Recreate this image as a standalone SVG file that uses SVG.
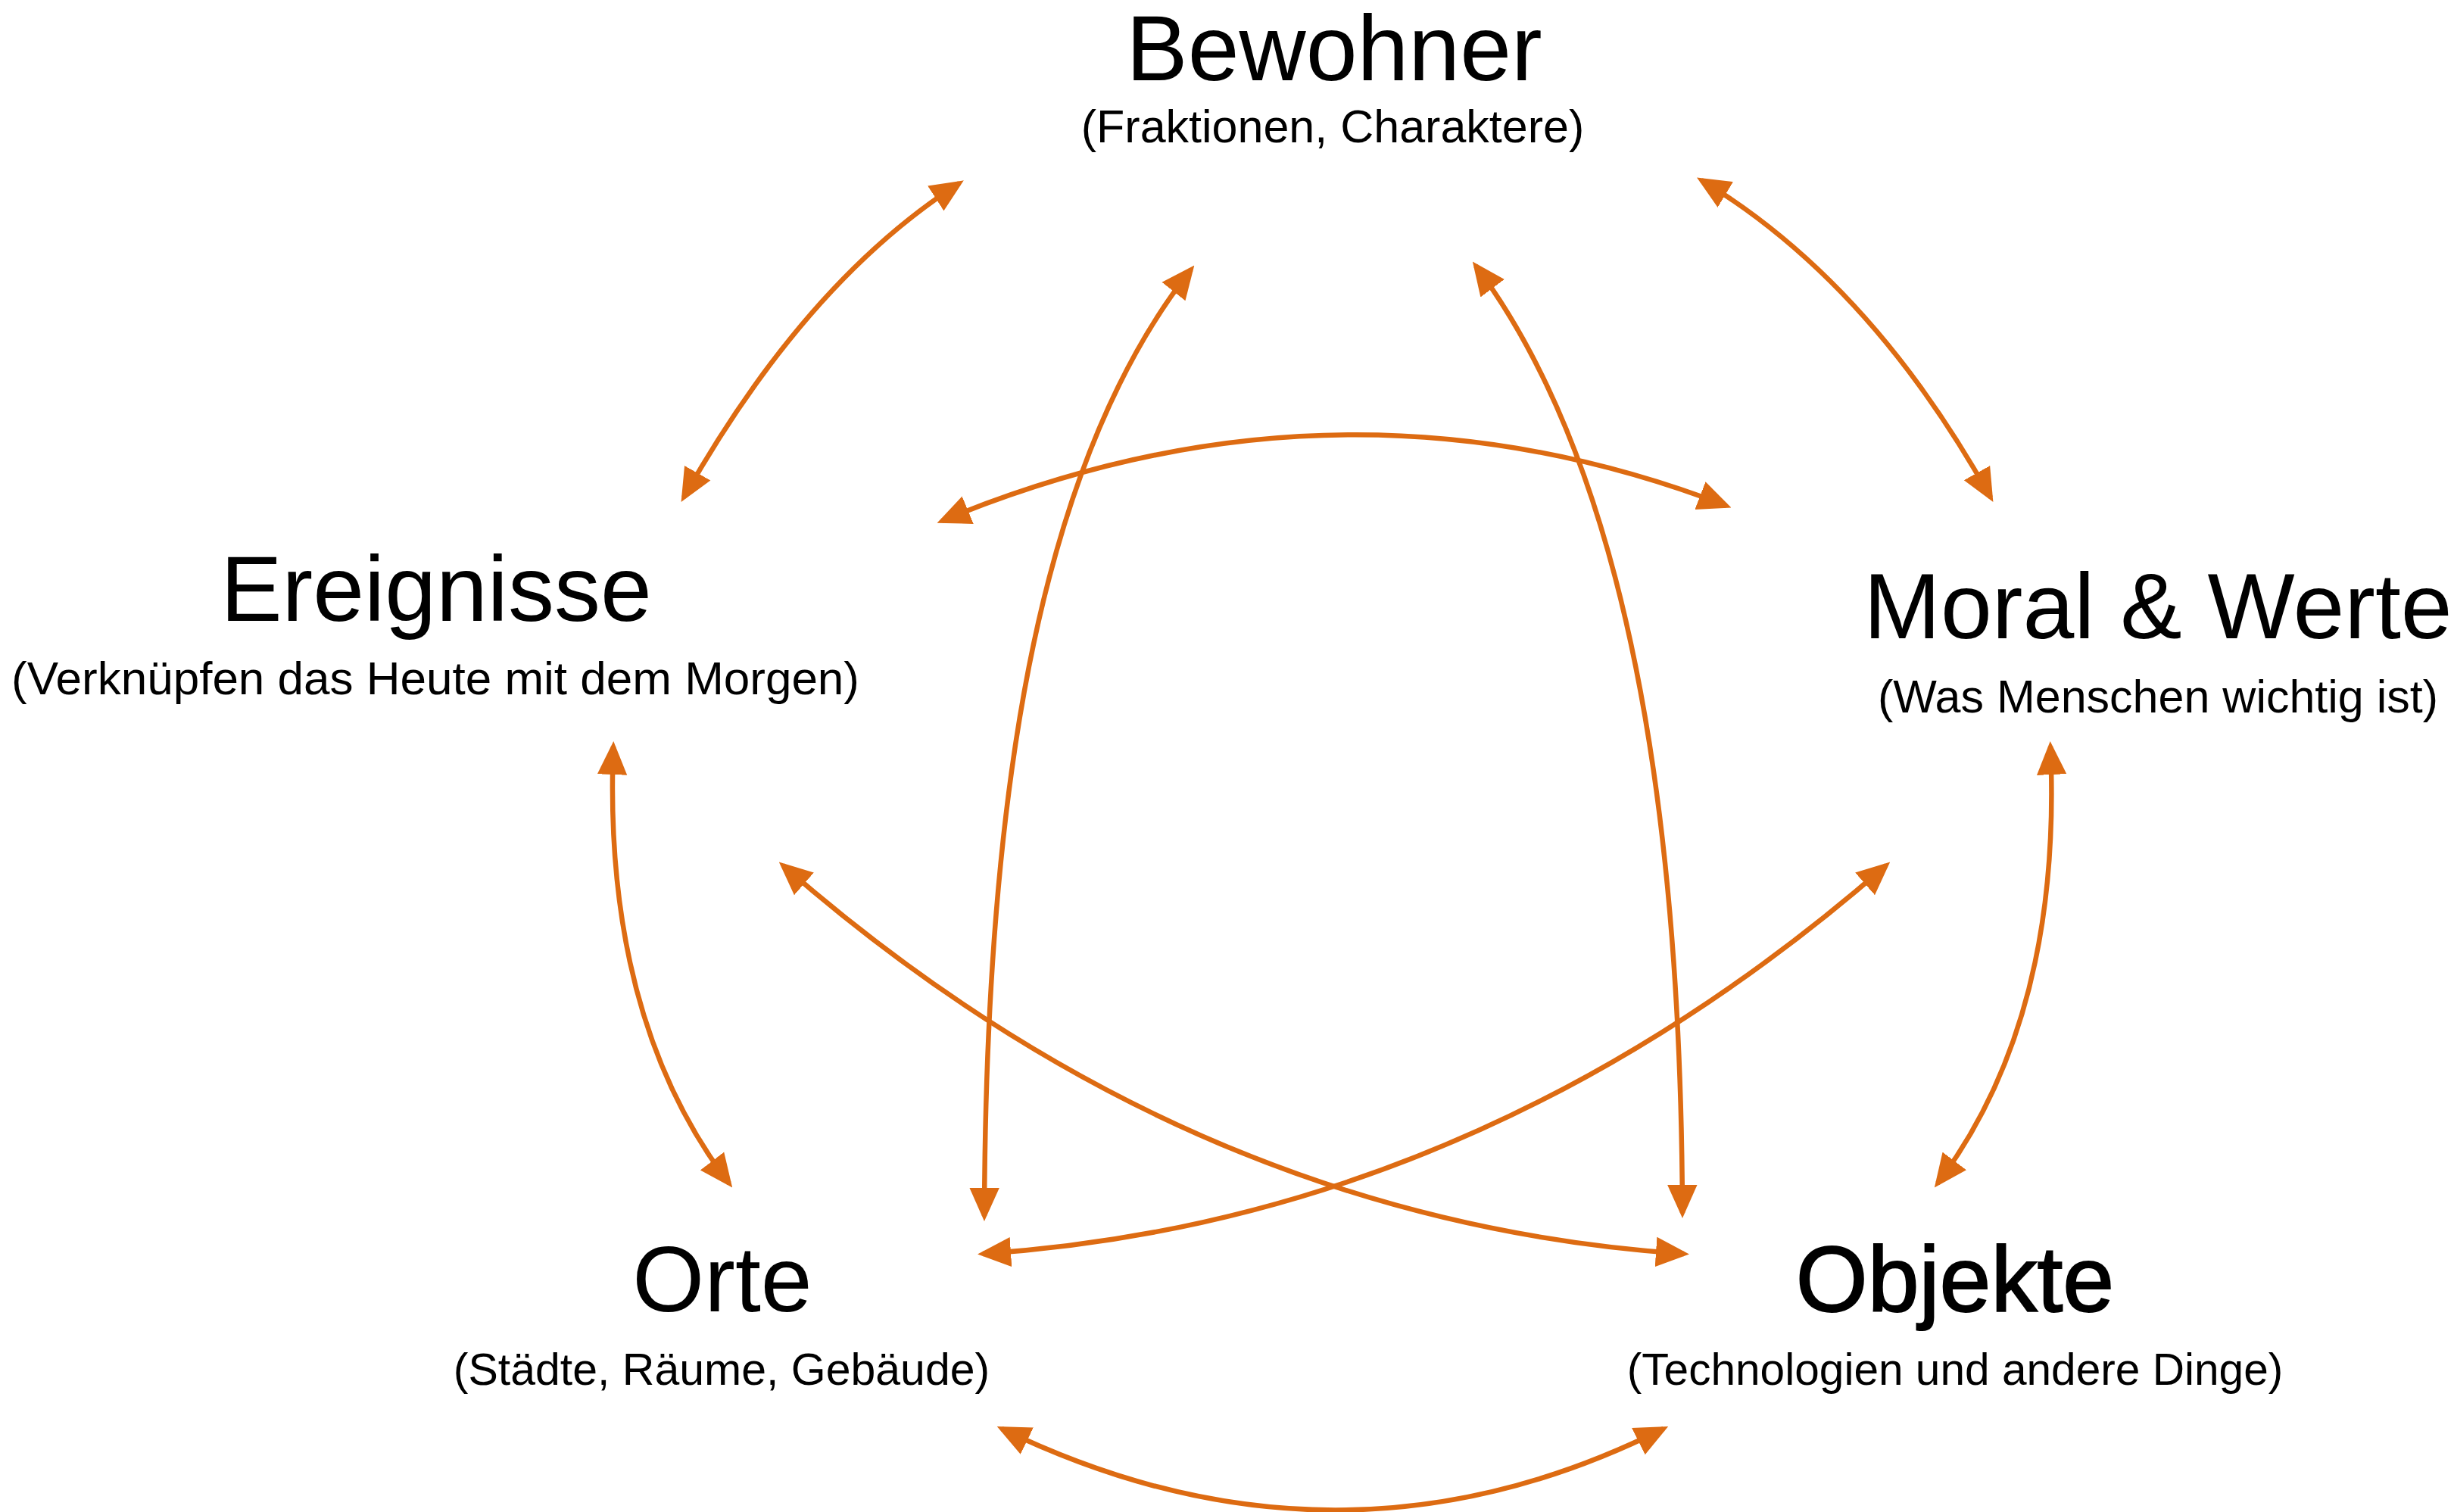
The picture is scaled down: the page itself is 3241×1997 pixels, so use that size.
<svg xmlns="http://www.w3.org/2000/svg" width="3241" height="1997" viewBox="0 0 3241 1997">
<style>
.t{font-family:"Liberation Sans",Arial,sans-serif;fill:#000;text-anchor:middle}
.h{font-size:122px}
.s{font-size:61px}
.c{fill:none;stroke:#DD6B12;stroke-width:6.5;marker-start:url(#ah);marker-end:url(#ah)}
</style>
<defs>
<marker id="ah" markerUnits="userSpaceOnUse" markerWidth="44" markerHeight="44" viewBox="0 0 38 34" refX="32" refY="17" orient="auto-start-reverse">
<path d="M0,0 L38,17 L0,34 z" fill="#DD6B12"/>
</marker>
</defs>
<rect width="3241" height="1997" fill="#fff"/>
<g id="connectors">
<path class="c" d="M903,657 Q1064,372 1267,242"/>
<path class="c" d="M2247,238 Q2470,372 2629,657"/>
<path class="c" d="M1244,688 Q1767,471 2280,668"/>
<path class="c" d="M1300,1606 C1302,1075 1364,620 1573,356"/>
<path class="c" d="M2222,1602 C2220,1075 2150,620 1949,351"/>
<path class="c" d="M810,986 Q796,1344 963,1563"/>
<path class="c" d="M2708,986 Q2724,1344 2559,1563"/>
<path class="c" d="M1034,1143 Q1571,1612 2224,1656"/>
<path class="c" d="M2491,1143 Q1953,1612 1298,1656"/>
<path class="c" d="M1323,1887 Q1767,2102 2197,1887"/>
</g>
<g id="bewohner">
<text class="t h" x="1762" y="106">Bewohner</text>
<text class="t s" x="1760" y="188">(Fraktionen, Charaktere)</text>
</g>
<g id="ereignisse">
<text class="t h" x="576" y="820">Ereignisse</text>
<text class="t s" x="575" y="917" style="font-size:62px">(Verknüpfen das Heute mit dem Morgen)</text>
</g>
<g id="moral">
<text class="t h" x="2850" y="843">Moral &amp; Werte</text>
<text class="t s" x="2850" y="941">(Was Menschen wichtig ist)</text>
</g>
<g id="orte">
<text class="t h" x="954" y="1732">Orte</text>
<text class="t s" x="953" y="1829" style="font-size:59px">(Städte, Räume, Gebäude)</text>
</g>
<g id="objekte">
<text class="t h" x="2582" y="1732" style="stroke:#000;stroke-width:2">Objekte</text>
<text class="t s" x="2582" y="1829" style="font-size:58.6px">(Technologien und andere Dinge)</text>
</g>
</svg>
